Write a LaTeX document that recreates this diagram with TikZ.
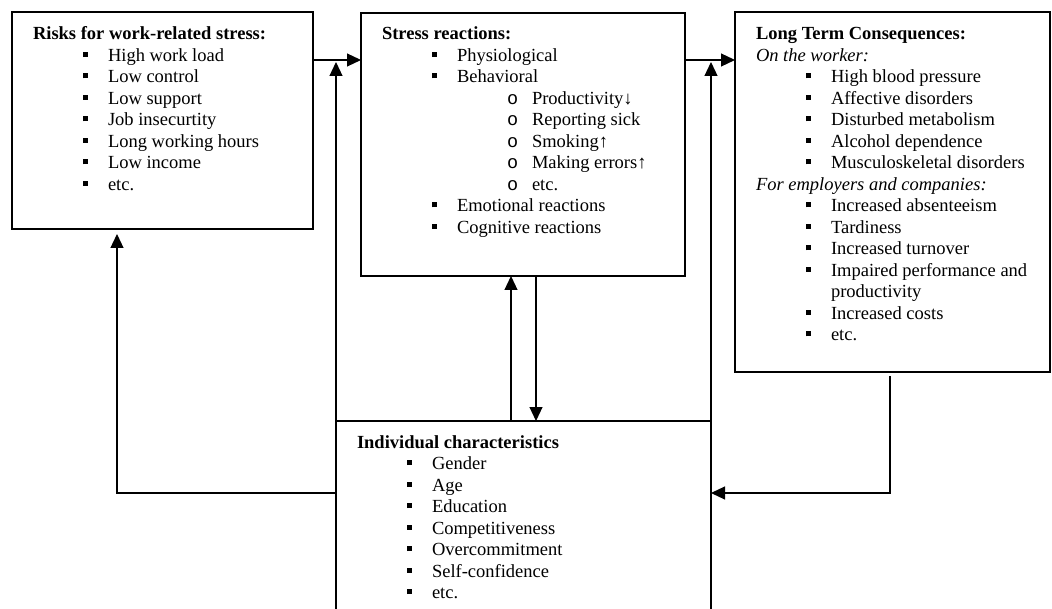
\documentclass[tikz,border=0pt]{standalone}
\usepackage{fontspec}
\setmainfont{Liberation Serif}
\newfontfamily\monofnt{Liberation Mono}
\usetikzlibrary{arrows.meta}
\newcommand\bx{\rule[4.5pt]{5pt}{5pt}}
\newcommand\ttl[1]{\hbox{#1}}
\newcommand\itm[1]{\hbox{\kern50pt\bx\kern20pt #1}}
\newcommand\subitm[1]{\hbox{\kern125pt\makebox[25pt][l]{\monofnt o}#1}}
\newcommand\cnt[1]{\hbox{\kern75pt #1}}
\newenvironment{lst}{\begin{minipage}[t]{300pt}\fontsize{18.5pt}{21.5pt}\selectfont\parindent0pt\parskip0pt}{\end{minipage}}
\begin{document}
\begin{tikzpicture}[x=1pt,y=-1pt,
  box/.style={draw, line width=1.8pt, inner sep=0pt, outer sep=0pt, anchor=north west},
  conn/.style={line width=1.2pt},
  arr/.style={conn, -{Triangle[length=14pt,width=13pt]}},
  txt/.style={inner sep=0pt, outer sep=0pt, anchor=base west}]
\useasboundingbox (0,0) rectangle (1052,609);
\clip (0,0) rectangle (1052,609);
\node[box, minimum width=301pt, minimum height=217pt] (risk) at (12,12) {};
\node[box, minimum width=324pt, minimum height=263pt] (stress) at (361,13) {};
\node[box, minimum width=315pt, minimum height=360pt] (cons) at (735,12) {};
\node[box, minimum width=375pt, minimum height=220pt] (indiv) at (336,421) {};

\node[txt] (risktxt) at (33,40) {\begin{lst}
\ttl{\textbf{Risks for work-related stress:}}
\itm{High work load}
\itm{Low control}
\itm{Low support}
\itm{Job insecurtity}
\itm{Long working hours}
\itm{Low income}
\itm{etc.}
\end{lst}};
\node[txt] (stresstxt) at (382,40) {\begin{lst}
\ttl{\textbf{Stress reactions:}}
\itm{Physiological}
\itm{Behavioral}
\subitm{Productivity↓}
\subitm{Reporting sick}
\subitm{Smoking↑}
\subitm{Making errors↑}
\subitm{etc.}
\itm{Emotional reactions}
\itm{Cognitive reactions}
\end{lst}};
\node[txt] (constxt) at (756,40) {\begin{lst}
\ttl{\textbf{Long Term Consequences:}}
\ttl{\textit{On the worker:}}
\itm{High blood pressure}
\itm{Affective disorders}
\itm{Disturbed metabolism}
\itm{Alcohol dependence}
\itm{Musculoskeletal disorders}
\ttl{\textit{For employers and companies:}}
\itm{Increased absenteeism}
\itm{Tardiness}
\itm{Increased turnover}
\itm{Impaired performance and}
\cnt{productivity}
\itm{Increased costs}
\itm{etc.}
\end{lst}};
\node[txt] (indivtxt) at (357,448) {\begin{lst}
\ttl{\textbf{Individual characteristics}}
\itm{Gender}
\itm{Age}
\itm{Education}
\itm{Competitiveness}
\itm{Overcommitment}
\itm{Self-confidence}
\itm{etc.}
\end{lst}};

\coordinate (j1) at (337,60);
\coordinate (j2) at (710,60);
\coordinate (fl) at (117,493);
\coordinate (fr) at (890,493);
\coordinate (u) at (511,0);
\coordinate (d) at (536,0);

\draw[arr] (risk.east |- j1) -- (stress.west |- j1);
\draw[arr, shorten >=2pt] (indiv.north west) -- (indiv.north west |- j1);
\draw[arr] (stress.east |- j2) -- (cons.west |- j2);
\draw[arr, shorten >=2pt] (indiv.north east) -- (indiv.north east |- j2);
\draw[arr, shorten >=5pt] (indiv.west |- fl) -- (fl) -- (fl |- risk.south);
\draw[arr, shorten <=4pt] (fr |- cons.south) -- (fr) -- (indiv.east |- fr);
\draw[arr] (u |- indiv.north) -- (u |- stress.south);
\draw[arr] (d |- stress.south) -- (d |- indiv.north);
\end{tikzpicture}
\end{document}
